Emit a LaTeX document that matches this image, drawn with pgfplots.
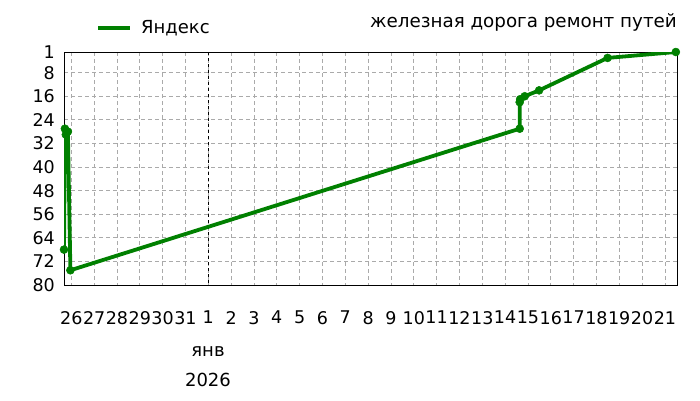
\documentclass[border=0pt]{standalone}
\usepackage{pgfplots}
\pgfplotsset{compat=1.18}
\usepackage{fontspec}
\setmainfont{DejaVu Sans}
\definecolor{ser}{RGB}{0,128,0}
\definecolor{gridc}{RGB}{170,170,170}
\begin{document}
\fontsize{18}{21}\selectfont
\begin{tikzpicture}
\useasboundingbox (0,0) rectangle (700pt,400pt);
\begin{axis}[
  at={(64pt,115pt)}, anchor=south west,
  scale only axis, width=613pt, height=233pt,
  xmin=-5.32, xmax=21.53,
  ymin=1, ymax=80, y dir=reverse,
  ytick={1,8,16,24,32,40,48,56,64,72,80},
  xtick={-5,...,21},
  xticklabels={26,27,28,29,30,31,1,2,3,4,5,6,7,8,9,10,11,12,13,14,15,16,17,18,19,20,21},
  extra x ticks={1}, extra x tick labels={},
  extra x tick style={grid style={black, dash pattern=on 3pt off 3pt, line width=0.8pt}},
  major tick length=0pt,
  grid=major,
  grid style={gridc, dash pattern=on 4pt off 3pt, line width=0.8pt},
  axis line style={black, line width=0.9pt},
  /pgf/number format/assume math mode=true,
  tick label style={font=\fontsize{17.5}{20}\selectfont},
  xticklabel style={yshift=-20pt},
  yticklabel style={xshift=-3pt},
  title={железная дорога ремонт путей},
  title style={at={(1,1.103)}, anchor=east, inner sep=0pt, font=\fontsize{18.3}{21}\selectfont},
  legend style={at={(0.0525,1.103)}, anchor=west, draw=none, fill=none, inner sep=0pt,
    font=\fontsize{18}{21}\selectfont, nodes={inner sep=0pt},
    /tikz/every even column/.append style={column sep=0pt}},
  legend image code/.code={\draw[ser, line width=3.8pt] (0pt,0pt) -- (32pt,0pt); \path (41pt,0pt);},
]
\addplot[ser, line width=3.8pt, mark=*, mark size=4pt, mark options={solid, fill=ser, draw=ser, line width=0.5pt}] coordinates {
(-5.32,68)
(-5.28,27)
(-5.24,29)
(-5.20,28)
(-5.15,28)
(-5.04,75)
(14.64,27)
(14.64,18)
(14.66,17)
(14.86,16)
(15.49,14)
(18.49,3)
(21.48,1)
};
\addlegendentry{Яндекс}
\end{axis}
\node at (208pt,48pt) {янв};
\node at (208pt,20pt) {2026};
\end{tikzpicture}
\end{document}
